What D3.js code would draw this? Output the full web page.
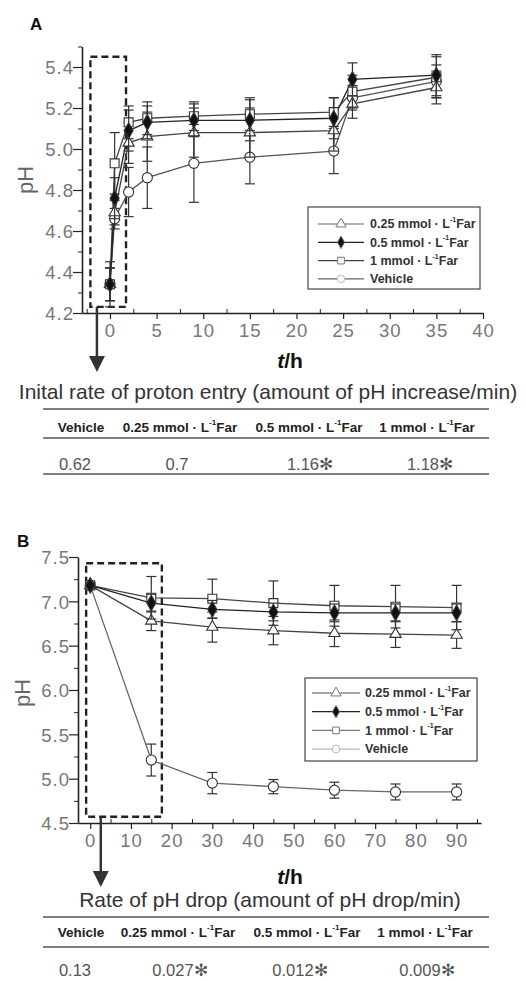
<!DOCTYPE html>
<html><head><meta charset="utf-8">
<script src="https://cdn.jsdelivr.net/npm/d3@7"></script>
<style>
body{margin:0;background:#fff;}
text{font-family:"Liberation Sans",Arial,sans-serif;}
</style></head>
<body>
<svg id="c" width="526" height="981"></svg>
<script>
// ---------- DATA ----------
const seriesNames = ["0.25 mmol · L", "0.5 mmol · L", "1 mmol · L", "Vehicle"];
const seriesKeys = ["f025", "f05", "f1", "veh"];

// Panel A (proton entry)
const timeA = [0, 0.5, 2, 4, 9, 15, 24, 26, 35];
const phA_f025 = [4.34, 4.69, 5.03, 5.06, 5.08, 5.08, 5.09, 5.22, 5.30];
const phA_f05  = [4.34, 4.76, 5.09, 5.13, 5.14, 5.14, 5.15, 5.34, 5.36];
const phA_f1   = [4.34, 4.93, 5.13, 5.15, 5.16, 5.17, 5.18, 5.28, 5.35];
const phA_veh  = [4.34, 4.66, 4.79, 4.86, 4.93, 4.96, 4.99, 5.25, 5.33];
const errA_f025 = [0.08, 0.06, 0.10, 0.12, 0.12, 0.12, 0.10, 0.07, 0.08];
const errA_f05  = [0.08, 0.10, 0.10, 0.08, 0.08, 0.10, 0.10, 0.08, 0.10];
const errA_f1   = [0.08, 0.15, 0.08, 0.08, 0.07, 0.08, 0.07, 0.08, 0.10];
const errA_veh  = [0.11, 0.05, 0.12, 0.15, 0.19, 0.13, 0.11, 0.06, 0.08];
const yTicksA = [4.2, 4.4, 4.6, 4.8, 5.0, 5.2, 5.4];
const xTicksA = [0, 5, 10, 15, 20, 25, 30, 35, 40];

// Panel B (pH drop)
const timeB = [0, 15, 30, 45, 60, 75, 90];
const phB_f025 = [7.18, 6.78, 6.71, 6.67, 6.64, 6.63, 6.62];
const phB_f05  = [7.18, 6.98, 6.91, 6.88, 6.87, 6.87, 6.87];
const phB_f1   = [7.18, 7.04, 7.03, 6.98, 6.95, 6.94, 6.93];
const phB_veh  = [7.18, 5.21, 4.95, 4.91, 4.87, 4.85, 4.85];
const errB_f025 = [0.03, 0.11, 0.17, 0.16, 0.15, 0.15, 0.15];
const errB_f05  = [0.03, 0.10, 0.10, 0.10, 0.10, 0.10, 0.10];
const errB_f1   = [0.03, 0.24, 0.22, 0.25, 0.23, 0.24, 0.25];
const errB_veh  = [0.03, 0.18, 0.12, 0.08, 0.09, 0.09, 0.09];
const yTicksB = [4.5, 5.0, 5.5, 6.0, 6.5, 7.0, 7.5];
const xTicksB = [0, 10, 20, 30, 40, 50, 60, 70, 80, 90];

// Tables
const tableHeads = ["Vehicle", "0.25 mmol · L", "0.5 mmol · L", "1 mmol · L"];
const tableA = ["0.62", "0.7", "1.16✻", "1.18✻"];
const tableB = ["0.13", "0.027✻", "0.012✻", "0.009✻"];
const titleA = "Inital rate of proton entry (amount of pH increase/min)";
const titleB = "Rate of pH drop (amount of pH drop/min)";

// ---------- DRAW ----------
const svg = d3.select("#c");
svg.append("rect").attr("width",526).attr("height",981).attr("fill","#fff");

const symType = {f025:d3.symbolTriangle, f05:d3.symbolDiamond, f1:d3.symbolSquare, veh:d3.symbolCircle};
const symFill = {f025:"#fff", f05:"#111", f1:"#fff", veh:"#fff"};

function panel(cfg){
  const g = svg.append("g");
  const x = d3.scaleLinear().domain(cfg.xDom).range(cfg.xRange);
  const y = d3.scaleLinear().domain(cfg.yDom).range(cfg.yRange);
  const axisCol = "#222";
  // Y axis
  const ya = g.append("g").attr("transform",`translate(${cfg.xRange[0]},0)`)
    .call(d3.axisLeft(y).tickValues(cfg.yTicks).tickSize(9).tickSizeOuter(0).tickFormat(d3.format(".1f")));
  ya.select(".domain").attr("stroke",axisCol).attr("stroke-width",1.6);
  ya.selectAll(".tick line").attr("stroke",axisCol).attr("stroke-width",1.2);
  ya.selectAll(".tick text").attr("fill","#777").attr("font-size",18.5).attr("x",-8).attr("dy","0.36em")
    .attr("letter-spacing",1);
  const ym = g.append("g").attr("transform",`translate(${cfg.xRange[0]},0)`)
    .call(d3.axisLeft(y).tickValues(cfg.yMinor).tickSize(4).tickFormat(""));
  ym.select(".domain").remove();
  ym.selectAll(".tick line").attr("stroke",axisCol);
  // X axis
  const xa = g.append("g").attr("transform",`translate(0,${cfg.yRange[0]})`)
    .call(d3.axisBottom(x).tickValues(cfg.xTicks).tickSize(6).tickSizeOuter(0).tickFormat(d3.format("d")));
  xa.select(".domain").attr("stroke",axisCol).attr("stroke-width",1.6);
  xa.selectAll(".tick line").attr("stroke",axisCol).attr("stroke-width",1.2);
  xa.selectAll(".tick text").attr("fill","#777").attr("font-size",18.5).attr("y",11).attr("dy","0.71em")
    .attr("letter-spacing",1);
  const xm = g.append("g").attr("transform",`translate(0,${cfg.yRange[0]})`)
    .call(d3.axisTop(x).tickValues(cfg.xMinor).tickSize(4).tickFormat(""));
  xm.select(".domain").remove();
  xm.selectAll(".tick line").attr("stroke",axisCol);

  // dashed box + arrow
  const b = cfg.box;
  g.append("rect").attr("x",x(b.t0)).attr("y",y(b.p1))
    .attr("width",x(b.t1)-x(b.t0)).attr("height",y(b.p0)-y(b.p1))
    .attr("fill","none").attr("stroke","#222").attr("stroke-width",2.4).attr("stroke-dasharray","7,4");
  const ax = x(cfg.arrow.t);
  g.append("line").attr("x1",ax).attr("x2",ax).attr("y1",y(b.p0)).attr("y2",cfg.arrow.yEnd-12)
    .attr("stroke","#333").attr("stroke-width",2.5);
  g.append("path").attr("d",`M${ax-8},${cfg.arrow.yEnd-16}L${ax+8},${cfg.arrow.yEnd-16}L${ax},${cfg.arrow.yEnd}Z`).attr("fill","#333");

  // series
  const line = d3.line().x(d=>x(d.t)).y(d=>y(d.v));
  cfg.series.forEach(s=>{
    const pts = cfg.time.map((t,i)=>({t, v:s.vals[i], e:s.err[i]}));
    g.append("path").datum(pts).attr("d",line).attr("fill","none")
      .attr("stroke",s.col).attr("stroke-width",1.3);
  });
  cfg.series.forEach(s=>{
    const pts = cfg.time.map((t,i)=>({t, v:s.vals[i], e:s.err[i]}));
    const eg = g.append("g").attr("stroke","#333").attr("stroke-width",1.2);
    pts.forEach(p=>{
      const px = x(p.t);
      eg.append("line").attr("x1",px).attr("x2",px).attr("y1",y(p.v+p.e)).attr("y2",y(p.v-p.e));
      [p.v+p.e, p.v-p.e].forEach(v=>eg.append("line").attr("x1",px-5).attr("x2",px+5).attr("y1",y(v)).attr("y2",y(v)));
    });
    g.append("g").selectAll("path").data(pts).join("path")
      .attr("transform",d=>`translate(${x(d.t)},${y(d.v)})`)
      .attr("d",d3.symbol().type(symType[s.key]).size(s.key==="f025"?55:(s.key==="f05"?70:80)))
      .attr("fill",symFill[s.key]).attr("stroke","#333").attr("stroke-width",1.1);
  });

  // legend
  const L = cfg.legend;
  g.append("rect").attr("x",L.x).attr("y",L.y).attr("width",L.w).attr("height",L.h)
    .attr("fill","#fff").attr("stroke","#444").attr("stroke-width",1.2);
  seriesNames.forEach((n,i)=>{
    const ry = L.y + L.row0 + i*L.dy;
    const key = seriesKeys[i];
    g.append("line").attr("x1",L.x+L.l0).attr("x2",L.x+L.l1).attr("y1",ry).attr("y2",ry)
      .attr("stroke",cfg.legCols[i]).attr("stroke-width",1.3);
    g.append("path").attr("transform",`translate(${L.x+(L.l0+L.l1)/2},${ry})`)
      .attr("d",d3.symbol().type(symType[key]).size(45))
      .attr("fill",key==="f05"?"#111":"#fff").attr("stroke",key==="veh"?"#bbb":"#777");
    const t = g.append("text").attr("x",L.x+L.tx).attr("y",ry).attr("dy","0.35em")
      .attr("font-size",12.5).attr("font-weight","bold").attr("fill","#333").text(n);
    if(key!=="veh"){
      t.append("tspan").attr("font-size",7).attr("dy","-0.9em").text("-1");
      t.append("tspan").attr("font-size",12.5).attr("dy","0.5em").text("Far");
    }
  });

  // labels
  g.append("text").attr("x",cfg.label.x).attr("y",cfg.label.y).attr("font-size",17).attr("font-weight","bold")
    .attr("fill","#111").text(cfg.label.text);
  g.append("text").attr("transform",`translate(${cfg.ylab.x},${cfg.ylab.y}) rotate(-90)`)
    .attr("text-anchor","middle").attr("dy","0.35em").attr("font-size",22).attr("fill","#666").text("pH");
  const xl = g.append("text").attr("x",cfg.xlab.x).attr("y",cfg.xlab.y).attr("text-anchor","middle")
    .attr("font-size",21).attr("font-weight","bold").attr("fill","#111");
  xl.append("tspan").attr("font-style","italic").text("t");
  xl.append("tspan").text("/h");
}

function table(cfg, vals, title){
  const g = svg.append("g");
  g.append("text").attr("x",cfg.cx).attr("y",cfg.titleY).attr("text-anchor","middle")
    .attr("font-size",cfg.titleSize).attr("fill","#333").text(title);
  [cfg.r1, cfg.r2, cfg.r3].forEach(r=>{ if(r!==null) g.append("line").attr("x1",43).attr("x2",489).attr("y1",r).attr("y2",r)
    .attr("stroke","#555").attr("stroke-width",1.5);});
  tableHeads.forEach((h,i)=>{
    const t = g.append("text").attr("x",cfg.hx[i]).attr("y",cfg.headY).attr("text-anchor","middle")
      .attr("font-size",13.5).attr("font-weight","bold").attr("fill","#222").text(h);
    if(i>0){
      t.append("tspan").attr("font-size",8).attr("dy","-0.9em").text("-1");
      t.append("tspan").attr("font-size",13.5).attr("dy","0.53em").text("Far");
    }
  });
  vals.forEach((v,i)=>{
    g.append("text").attr("x",cfg.vx[i]).attr("y",cfg.valY).attr("text-anchor","middle")
      .attr("font-size",16.5).attr("fill","#555").text(v);
  });
}

panel({
  xDom:[-3,40], xRange:[82,483], yDom:[4.2,5.5], yRange:[313,46.5],
  yTicks:yTicksA, yMinor:d3.range(4.3,5.55,0.2).map(v=>+v.toFixed(1)),
  xTicks:xTicksA, xMinor:d3.range(-2.5,40,2.5).filter(v=>v%5!==0),
  box:{t0:-2.1,t1:1.72,p0:4.23,p1:5.45}, arrow:{t:-1.4,yEnd:372},
  time:timeA,
  series:[
    {key:"veh", vals:phA_veh, err:errA_veh, col:"#555"},
    {key:"f025",vals:phA_f025,err:errA_f025,col:"#444"},
    {key:"f1",  vals:phA_f1,  err:errA_f1,  col:"#444"},
    {key:"f05", vals:phA_f05, err:errA_f05, col:"#222"}
  ],
  legend:{x:308,y:207,w:172,h:82,row0:17,dy:18.3,l0:10,l1:56,tx:62},
  legCols:["#999","#222","#444","#666"],
  label:{x:30,y:30,text:"A"}, ylab:{x:25,y:180}, xlab:{x:290,y:368}
});

panel({
  xDom:[-3,96], xRange:[78,481], yDom:[4.5,7.5], yRange:[823,557],
  yTicks:yTicksB, yMinor:d3.range(4.75,7.5,0.5),
  xTicks:xTicksB, xMinor:d3.range(5,96,10),
  box:{t0:-1.0,t1:17.6,p0:4.57,p1:7.43}, arrow:{t:2.6,yEnd:887},
  time:timeB,
  series:[
    {key:"veh", vals:phB_veh, err:errB_veh, col:"#666"},
    {key:"f025",vals:phB_f025,err:errB_f025,col:"#444"},
    {key:"f1",  vals:phB_f1,  err:errB_f1,  col:"#444"},
    {key:"f05", vals:phB_f05, err:errB_f05, col:"#222"}
  ],
  legend:{x:305,y:678,w:172,h:83,row0:15,dy:18.7,l0:7,l1:55,tx:60},
  legCols:["#888","#222","#777","#bbb"],
  label:{x:17,y:547,text:"B"}, ylab:{x:22,y:693}, xlab:{x:290,y:884}
});

table({cx:268,titleY:399,titleSize:21,r1:409,r2:438,r3:474,headY:432,valY:470,
  hx:[81,180,309,427], vx:[75,177,310,430]}, tableA, titleA);
table({cx:270,titleY:907,titleSize:21,r1:917,r2:947,r3:null,headY:937,valY:976,
  hx:[81,178,307,425], vx:[75,180,300,427]}, tableB, titleB);
</script>
</body></html>
